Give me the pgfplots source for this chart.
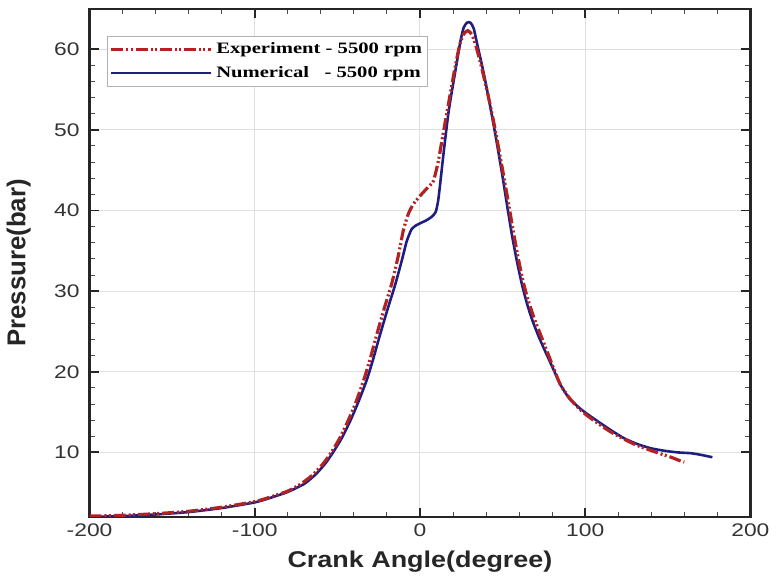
\documentclass[border=0pt]{standalone}
\usepackage{fontspec}
\usepackage{pgfplots}
\pgfplotsset{compat=1.18}
\newfontfamily\ticksans[FakeStretch=1.25]{Liberation Sans}
\newfontfamily\labsans[FakeStretch=1.18]{Liberation Sans}
\newfontfamily\ylabsans{Liberation Sans}
\newfontfamily\legserif[FakeStretch=1.3]{Liberation Serif}
\definecolor{expred}{RGB}{178,34,34}
\definecolor{numblue}{RGB}{30,30,130}

\begin{document}
\begin{tikzpicture}
\begin{axis}[
    scale only axis,
    width=333pt, height=256pt,
    xmin=-200, xmax=200,
    ymin=2, ymax=65,
    xtick={-200,-100,0,100,200},
    xticklabels={-200,-100,0,100,200},
    ytick={10,20,30,40,50,60},
    minor x tick num=4,
    minor y tick num=4,
    /pgf/number format/assume math mode=true,
    tick label style={font=\ticksans\fontsize{9.2}{10}\selectfont, text=black!80},
    yticklabel style={xshift=-1.5pt},
    xlabel={Crank Angle(degree)},
    ylabel={Pressure(bar)},
    xlabel style={font=\labsans\bfseries\fontsize{11.5}{13}\selectfont, text=black!85},
    ylabel style={font=\ylabsans\bfseries\fontsize{13}{14}\selectfont, text=black!85},
    ylabel shift=5pt,
    axis line style={line width=1.2pt, black!85},
    major tick length=4.5pt,
    minor tick length=2.5pt,
    major tick style={line width=1pt, black!85},
    minor tick style={line width=0.5pt, black!70},
    grid=major,
    major grid style={black!12, line width=0.5pt},
    reverse legend,
    legend cell align=left,
    legend style={at={(0.027,0.947)}, anchor=north west,
        draw=black!30, fill=white, line width=0.5pt,
        font=\legserif\bfseries\fontsize{8}{9}\selectfont,
        inner sep=1pt, row sep=1pt},
    legend image code/.code={\draw[#1] (0pt,0pt) -- (50pt,0pt);},
]
\addplot[numblue, line width=1.3pt, smooth, tension=0.35] coordinates {
(-200,2.0) (-180,2.1) (-160,2.3) (-140,2.6) (-120,3.1) (-100,3.8) (-90,4.4)
(-80,5.1) (-70,6.1) (-63,7.3) (-57,8.7) (-52,10.2) (-47,11.9) (-42,14.0)
(-37,16.4) (-32,19.1) (-28,21.8) (-25,24.0) (-20,27.5) (-15,30.8) (-11,33.8)
(-8,36.2) (-5,37.7) (-2,38.2) (1,38.5) (4,38.8) (7,39.2) (9.5,39.8) (11,41.2)
(12.5,43.8) (14.5,47.5) (17.5,52.5) (21.5,57.4) (24.5,61.0) (26.5,62.7)
(28.5,63.3) (30.5,63.3) (32.5,62.6) (35,60.3) (38,57.6) (42,53.5) (46,49.0)
(50,44.2) (53,40.3) (56,36.6) (59,33.4) (62,30.6) (65,28.3) (68,26.4)
(72,24.3) (77,22.0) (81,20.2) (85,18.4) (90,16.8) (96,15.6) (101,14.8)
(108,13.8) (116,12.7) (124,11.7) (132,11.0) (140,10.5) (148,10.2) (156,10.0)
(164,9.9) (170,9.7) (177,9.4)};
\addlegendentry{Numerical\ \ \ - 5500 rpm}
\addplot[expred, line width=1.6pt, smooth, tension=0.35,
    dash pattern=on 6pt off 1.5pt on 1pt off 1.2pt on 1pt off 1.5pt] coordinates {
(-200,2.1) (-180,2.2) (-160,2.4) (-140,2.7) (-120,3.2) (-100,3.9) (-90,4.5)
(-80,5.2) (-72,6.1) (-65,7.2) (-59,8.5) (-54,9.9) (-49,11.6) (-44,13.7)
(-39,16.1) (-34,19.0) (-30,21.7) (-27,24.0) (-22,27.6) (-17,31.0) (-13,34.5)
(-10,37.6) (-7,39.6) (-4,40.8) (0,41.8) (4,42.7) (8,43.6) (11,46.0) (14,49.5)
(17.5,53.5) (21,57.5) (24,60.5) (26.5,61.9) (29,62.3) (31.5,61.8) (34,60.3)
(37,58.0) (41,54.5) (45,50.6) (49,46.2) (53,41.6) (56,38.0) (59,34.6)
(62,31.6) (65,29.2) (69,26.7) (73,24.6) (77,22.5) (81,20.4) (85,18.4)
(91,16.6) (97,15.3) (101,14.6) (107,13.7) (115,12.6) (123,11.7) (131,10.9)
(139,10.3) (146,9.8) (152,9.4) (157,9.0) (160,8.8)};
\addlegendentry{Experiment - 5500 rpm}
\end{axis}
\path (current axis.north) ++(0,4.5pt) coordinate (topmargin);
\end{tikzpicture}
\end{document}
